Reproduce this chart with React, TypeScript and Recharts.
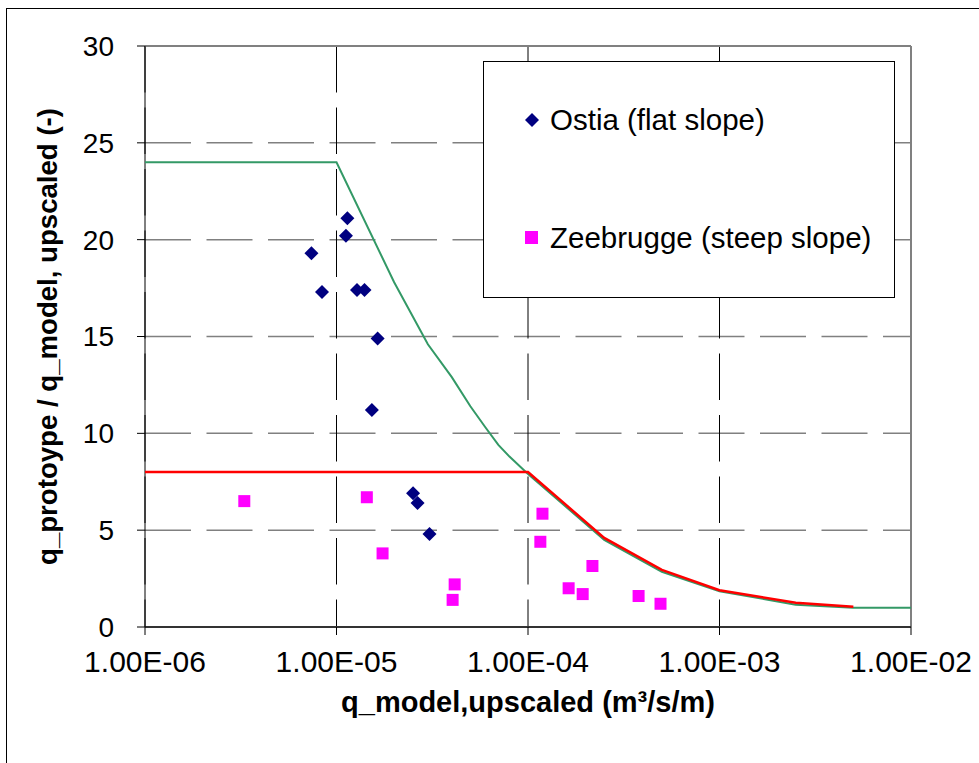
import {
  ComposedChart, Scatter, XAxis, YAxis, CartesianGrid, Legend, ReferenceLine, Label,
} from "recharts";

// x = q_model upscaled (m3/s/m), y = q_prototype / q_model
const ostiaQ = [1.14e-5, 1.12e-5, 7.4e-6, 8.4e-6, 1.28e-5, 1.4e-5, 1.64e-5, 1.53e-5, 2.51e-5, 2.65e-5, 3.06e-5];
const ostiaR = [21.1, 20.2, 19.3, 17.3, 17.4, 17.4, 14.9, 11.2, 6.9, 6.4, 4.8];

const zeeQ = [3.3e-6, 1.44e-5, 1.74e-5, 4.14e-5, 4.04e-5, 1.19e-4, 1.16e-4, 2.17e-4, 1.63e-4, 1.93e-4, 3.78e-4, 4.92e-4];
const zeeR = [6.5, 6.7, 3.8, 2.2, 1.4, 5.85, 4.4, 3.15, 2.0, 1.7, 1.6, 1.2];

const greenQ = [1e-6, 1e-5, 2e-5, 3e-5, 4e-5, 5e-5, 6e-5, 7e-5, 8e-5, 1e-4, 2.5e-4, 5e-4, 1e-3, 2.5e-3, 5e-3, 1e-2];
const greenR = [24, 24, 17.8, 14.6, 12.9, 11.4, 10.3, 9.4, 8.8, 7.9, 4.5, 2.85, 1.85, 1.15, 1.0, 1.0];

const redQ = [1e-6, 1e-4, 2.5e-4, 5e-4, 1e-3, 2.5e-3, 5e-3];
const redR = [8, 8, 4.6, 2.95, 1.9, 1.25, 1.05];

const xTicks = [1e-6, 1e-5, 1e-4, 1e-3, 1e-2];
const yTicks = [0, 5, 10, 15, 20, 25, 30];

const zip = (xs: number[], ys: number[]) => xs.map((x, i) => ({ x, y: ys[i] }));

const ostia = zip(ostiaQ, ostiaR);
const zee = zip(zeeQ, zeeR);
const green = zip(greenQ, greenR);
const red = zip(redQ, redR);

const FONT = "'Liberation Sans', Arial, sans-serif";

function fmtExp(v: number) {
  const [m, e] = v.toExponential(2).split("e");
  const n = Math.abs(parseInt(e, 10));
  return `${m}E${e.startsWith("-") ? "-" : "+"}${n < 10 ? "0" + n : n}`;
}

// eslint-disable-next-line @typescript-eslint/no-explicit-any
const Diamond = (p: any) => {
  const { cx, cy } = p;
  const r = 7;
  return <polygon points={`${cx},${cy - r} ${cx + r},${cy} ${cx},${cy + r} ${cx - r},${cy}`} fill="#000080" />;
};

// eslint-disable-next-line @typescript-eslint/no-explicit-any
const Square = (p: any) => {
  const { cx, cy } = p;
  return <rect x={cx - 6} y={cy - 6} width={12} height={12} fill="#FF00FF" />;
};

const NoDot = () => <g />;

function LegendBox() {
  const row = { position: "absolute" as const, left: 0, display: "flex", alignItems: "center" };
  return (
    <div style={{ position: "relative", width: 412, height: 237, border: "1px solid #000", background: "#fff", boxSizing: "border-box", fontFamily: FONT, fontSize: 29.5, color: "#000" }}>
      <div style={{ ...row, top: 41 }}>
        <svg width={16} height={16} style={{ marginLeft: 40 }}>
          <polygon points="8,1 15,8 8,15 1,8" fill="#000080" />
        </svg>
        <span style={{ marginLeft: 10 }}>Ostia (flat slope)</span>
      </div>
      <div style={{ ...row, top: 159 }}>
        <svg width={16} height={16} style={{ marginLeft: 40 }}>
          <rect x={1} y={1} width={13} height={13} fill="#FF00FF" />
        </svg>
        <span style={{ marginLeft: 10 }}>Zeebrugge (steep slope)</span>
      </div>
    </div>
  );
}

export default function App() {
  return (
    <div style={{ position: "fixed", left: 0, top: 0, width: 979, height: 763, overflow: "hidden", background: "#fff" }}>
      <div style={{ position: "absolute", left: 6, top: 8, width: 1100, height: 900, border: "1px solid #000" }} />
      <div style={{ position: "absolute", left: 0, top: 0 }}>
        <ComposedChart width={979} height={763} margin={{ top: 46, right: 68, left: 0, bottom: 0 }}>
          <CartesianGrid horizontal vertical={false} stroke="#808080" strokeWidth={1.5} strokeDasharray="46 15.5" />
          <CartesianGrid horizontal={false} vertical stroke="#000" strokeWidth={1} strokeDasharray="46.5 15" />
          <XAxis
            type="number"
            dataKey="x"
            scale="log"
            domain={[1e-6, 1e-2]}
            ticks={xTicks}
            allowDataOverflow
            tickFormatter={fmtExp}
            height={136}
            tickSize={8}
            tickMargin={16}
            axisLine={{ stroke: "#333", strokeWidth: 2 }}
            tickLine={{ stroke: "#000" }}
            tick={{ fill: "#000", fontSize: 30, fontFamily: FONT }}
          >
            <Label
              value="q_model,upscaled (m³/s/m)"
              position="insideBottom"
              offset={51}
              style={{ fontSize: 29, fontWeight: "bold", fontFamily: FONT, fill: "#000" }}
            />
          </XAxis>
          <YAxis
            type="number"
            dataKey="y"
            domain={[0, 30]}
            ticks={yTicks}
            width={145}
            tickSize={8}
            tickMargin={23}
            axisLine={{ stroke: "#000" }}
            tickLine={{ stroke: "#000" }}
            tick={{ fill: "#000", fontSize: 28, fontFamily: FONT }}
          >
            <Label
              value="q_protoype / q_model, upscaled (-)"
              angle={-90}
              position="insideLeft"
              offset={47}
              style={{ textAnchor: "middle", fontSize: 27.6, fontWeight: "bold", fontFamily: FONT, fill: "#000" }}
            />
          </YAxis>
          <ReferenceLine y={30} stroke="#808080" strokeWidth={2} />
          <ReferenceLine x={1e-2} stroke="#808080" strokeWidth={2} />
          <Scatter data={green} shape={NoDot} line={{ stroke: "#339966", strokeWidth: 2 }} legendType="none" isAnimationActive={false} />
          <Scatter data={red} shape={NoDot} line={{ stroke: "#FF0000", strokeWidth: 2.5 }} legendType="none" isAnimationActive={false} />
          <Scatter name="Ostia (flat slope)" data={ostia} shape={Diamond} isAnimationActive={false} />
          <Scatter name="Zeebrugge (steep slope)" data={zee} shape={Square} isAnimationActive={false} />
          <Legend
            layout="vertical"
            align="center"
            verticalAlign="middle"
            content={LegendBox}
            wrapperStyle={{ left: 483, top: 61, width: 412, height: 237, right: "auto", bottom: "auto" }}
          />
        </ComposedChart>
      </div>
    </div>
  );
}
